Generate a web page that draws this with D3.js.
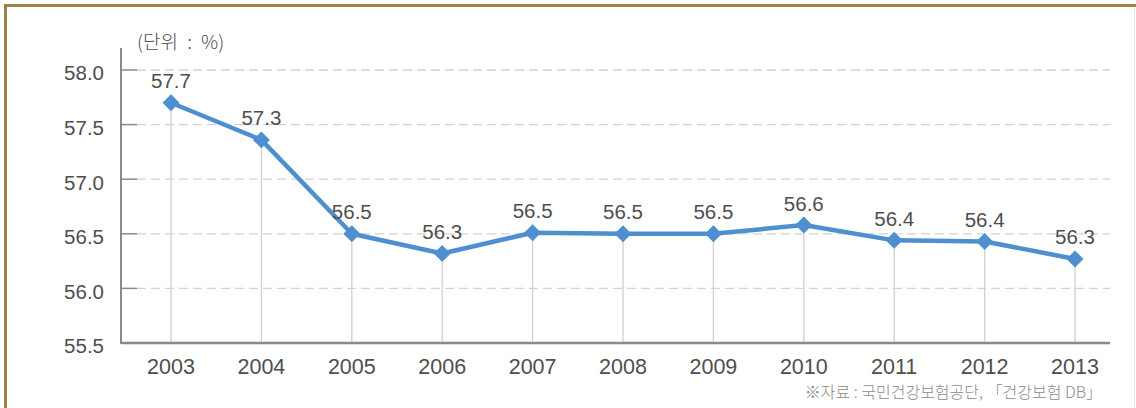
<!DOCTYPE html>
<html><head><meta charset="utf-8">
<script src="https://cdn.jsdelivr.net/npm/d3@7"></script>
<style>
html,body{margin:0;padding:0;background:#fff;}
svg{display:block;}
</style></head>
<body><svg id="c" width="1136" height="408"></svg>
<script>
const years = ["2003","2004","2005","2006","2007","2008","2009","2010","2011","2012","2013"];
const values = [57.70, 57.36, 56.50, 56.32, 56.51, 56.50, 56.50, 56.58, 56.44, 56.43, 56.27];
const valueLabels = ["57.7","57.3","56.5","56.3","56.5","56.5","56.5","56.6","56.4","56.4","56.3"];
const yTicks = [55.5, 56.0, 56.5, 57.0, 57.5, 58.0];
const unitText = "(단위 : %)";
const sourceText = "※자료 : 국민건강보험공단, 「건강보험 DB」";

(function(){
const svg = d3.select("#c");
const numFont = "'Liberation Sans',Arial,sans-serif";
const krFont = "'Noto Sans CJK KR','Noto Sans',sans-serif";
const txt = "#4e4e4e";

// frame
svg.append("rect").attr("x",4).attr("y",4).attr("width",1200).attr("height",3).attr("fill","#9a8548");
svg.append("rect").attr("x",4).attr("y",4).attr("width",3).attr("height",420).attr("fill","#9a8548");
svg.append("line").attr("x1",1134.5).attr("x2",1134.5).attr("y1",7).attr("y2",408).attr("stroke","#e4e4e4").attr("stroke-width",1);

const pLeft = 121, pRight = 1110, pTop = 70, pBottom = 343;
const x = d3.scalePoint().domain(years).range([171, 1075]);
const y = d3.scaleLinear().domain([55.5, 58.0]).range([pBottom, pTop]);

// dashed gridlines
svg.append("g").selectAll("line").data(yTicks.filter(d=>d>55.5)).join("line")
  .attr("x1",137).attr("x2",pRight).attr("y1",d=>y(d)).attr("y2",d=>y(d))
  .attr("stroke","#d2d2d2").attr("stroke-width",1.3).attr("stroke-dasharray","9,5");
// short ticks
svg.append("g").selectAll("line").data(yTicks.filter(d=>d>55.5)).join("line")
  .attr("x1",pLeft).attr("x2",137).attr("y1",d=>y(d)).attr("y2",d=>y(d))
  .attr("stroke","#8a8a8a").attr("stroke-width",1.5);

// drop lines
svg.append("g").selectAll("line").data(years).join("line")
  .attr("x1",d=>x(d)).attr("x2",d=>x(d))
  .attr("y1",(d,i)=>y(values[i])).attr("y2",pBottom)
  .attr("stroke","#d0d0d0").attr("stroke-width",1.3);

// axes lines
svg.append("line").attr("x1",pLeft).attr("x2",pLeft).attr("y1",48).attr("y2",pBottom+1)
  .attr("stroke","#8a8a8a").attr("stroke-width",2);
svg.append("line").attr("x1",pLeft).attr("x2",pRight).attr("y1",pBottom).attr("y2",pBottom)
  .attr("stroke","#8a8a8a").attr("stroke-width",2.5);

// y tick labels
svg.append("g").selectAll("text").data(yTicks).join("text")
  .attr("x",104).attr("y",d=>y(d)+3).attr("dy","0.36em").attr("text-anchor","end")
  .attr("font-family",numFont).attr("font-size",20.5).attr("fill",txt)
  .text(d=>d.toFixed(1));

// x tick labels
svg.append("g").selectAll("text").data(years).join("text")
  .attr("x",d=>x(d)).attr("y",374).attr("text-anchor","middle")
  .attr("font-family",numFont).attr("font-size",21.5).attr("fill",txt)
  .text(d=>d);

// unit
svg.append("text").attr("x",137).attr("y",49).attr("font-family",krFont).attr("font-weight",300)
  .attr("font-size",19).attr("word-spacing","5px").attr("fill",txt).text(unitText);

// line
const line = d3.line().x((d,i)=>x(years[i])).y(d=>y(d));
svg.append("path").datum(values).attr("d",line).attr("fill","none")
  .attr("stroke","#4d8fcf").attr("stroke-width",4.5).attr("stroke-linejoin","round");

// markers
svg.append("g").selectAll("path").data(values).join("path")
  .attr("transform",(d,i)=>`translate(${x(years[i])},${y(d)}) rotate(45)`)
  .attr("d","M-6,-6H6V6H-6Z").attr("fill","#4d8fcf");

// value labels
svg.append("g").selectAll("text").data(values).join("text")
  .attr("x",(d,i)=>x(years[i])).attr("y",d=>y(d)-14.5).attr("text-anchor","middle")
  .attr("font-family",numFont).attr("font-size",20.5).attr("fill",txt)
  .text((d,i)=>valueLabels[i]);

// source
svg.append("text").attr("x",1102).attr("y",398).attr("text-anchor","end")
  .attr("font-family",krFont).attr("font-weight",300).attr("font-size",16).attr("fill","#8a8a8a").text(sourceText);
})();
</script></body></html>
